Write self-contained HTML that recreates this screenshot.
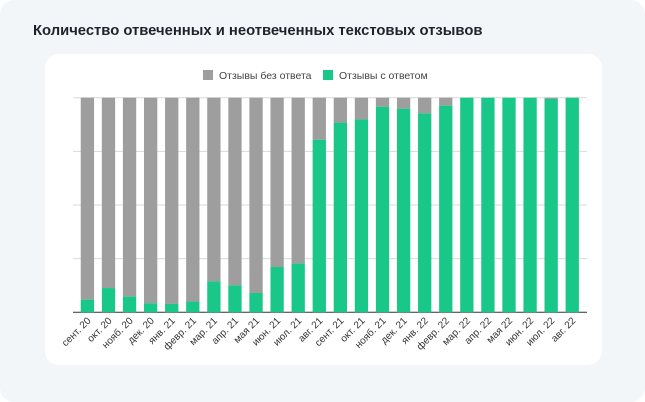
<!DOCTYPE html>
<html><head><meta charset="utf-8"><style>
body{margin:0;width:645px;height:402px;background:#fff;font-family:"Liberation Sans",sans-serif;overflow:hidden}
#outer{position:absolute;left:0;top:0;width:645px;height:402px;background:#f3f6f9;border-radius:14px}
#title{position:absolute;left:33px;top:23px;font-size:14.8px;font-weight:bold;color:#1f2329}
#card{position:absolute;left:45px;top:54px;width:557px;height:311px;background:#fff;border-radius:14px}
svg{position:absolute;left:0;top:0}
</style></head><body>
<div id="outer"></div>
<div id="title">Количество отвеченных и неотвеченных текстовых отзывов</div>
<div id="card"></div>
<svg id="chart" width="645" height="402"></svg>
<script>
const categories=["сент. 20","окт. 20","нояб. 20","дек. 20","янв. 21","февр. 21","мар. 21","апр. 21","мая 21","июн. 21","июл. 21","авг. 21","сент. 21","окт. 21","нояб. 21","дек. 21","янв. 22","февр. 22","мар. 22","апр. 22","мая 22","июн. 22","июл. 22","авг. 22"];
const answered=[5.9,11.3,7.3,4.2,3.9,5.0,14.4,12.6,9.0,21.1,22.7,80.4,88.4,89.9,95.7,94.9,92.7,96.3,100,100,100,100,99.4,100];
const gridTicks=[0,25,50,75,100];
const NS="http://www.w3.org/2000/svg";
const svgEl=document.getElementById('chart');
const pTop=97.7,pBottom=312.3,pLeft=73,pRight=587;
const yS=v=>pBottom-(pBottom-pTop)*v/100;
const x0=87.4,pitch=21.08,bw=13.3;
const xc=i=>x0+i*pitch;
function mk(t,a){const e=document.createElementNS(NS,t);for(const k in a)e.setAttribute(k,a[k]);svgEl.appendChild(e);return e;}
gridTicks.forEach(t=>{const l=mk('line',{x1:pLeft,x2:pRight,y1:yS(t),y2:yS(t),stroke:t===0?'#333':'#d9d9d9','stroke-width':1});

});
categories.forEach((c,i)=>{
const g=mk('rect',{x:xc(i)-bw/2,y:yS(100),width:bw,height:yS(answered[i])-yS(100),fill:'#9e9e9e'});


const b=mk('rect',{x:xc(i)-bw/2,y:yS(answered[i]),width:bw,height:pBottom-yS(answered[i]),fill:'#19c788'});


const tx=xc(i)+4,ty=pBottom+9;
const t=mk('text',{x:tx,y:ty,'font-size':'10','fill':'#333','text-anchor':'end',transform:`rotate(-45 ${tx} ${ty})`});
t.textContent=c;


});
const legend=[["Отзывы без ответа","#9e9e9e",203],["Отзывы с ответом","#19c788",323]];
legend.forEach(([n,c,lx])=>{
const r=mk('rect',{x:lx,y:70,width:10,height:10,fill:c});


const t=mk('text',{x:lx+16,y:79,'font-size':'10.5',fill:'#444'});t.textContent=n;


});
</script>
</body></html>
